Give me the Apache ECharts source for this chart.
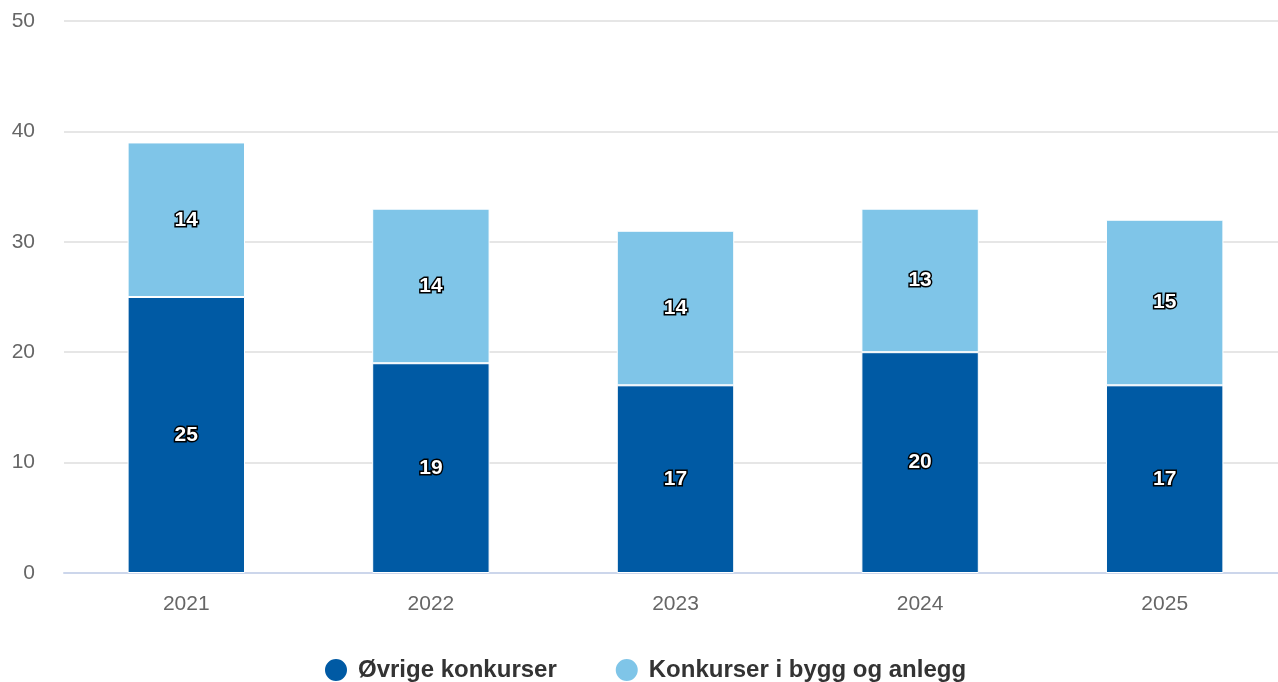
<!DOCTYPE html>
<html>
<head>
<meta charset="utf-8">
<style>
  html, body { margin: 0; padding: 0; background: #fff; }
  #chart { width: 1278px; height: 682px; }
</style>
<script src="https://cdn.jsdelivr.net/npm/echarts@6/dist/echarts.min.js"></script>
</head>
<body>
<div id="chart"></div>
<script>
const years = ['2021', '2022', '2023', '2024', '2025']
const ovrige = [25, 19, 17, 20, 17]
const bygg = [14, 14, 14, 13, 15]

const chart = echarts.init(document.getElementById('chart'))

const label = {
  show: true,
  position: 'inside',
  color: '#fff',
  fontSize: 21,
  fontWeight: 'bold',
  fontFamily: 'Liberation Sans, Arial, sans-serif',
  textBorderColor: '#000',
  textBorderWidth: 3
}

chart.setOption({
  animation: false,
  // plot area runs a little past the right edge of the canvas
  grid: { left: 64, width: 1223, top: 21, height: 552, outerBoundsMode: 'none' },
  legend: {
    top: 652,
    left: 318,
    itemGap: 57,
    icon: 'circle',
    itemWidth: 24,
    itemHeight: 24,
    textStyle: { fontSize: 24, fontWeight: 'bold', color: '#333', padding: [0, 0, 0, 5], fontFamily: 'Liberation Sans, Arial, sans-serif' }
  },
  xAxis: {
    type: 'category',
    data: years,
    axisLine: { lineStyle: { color: '#ccd6eb', width: 2 } },
    axisTick: { show: false },
    axisLabel: { color: '#666', fontSize: 21, margin: 21, fontFamily: 'Liberation Sans, Arial, sans-serif' }
  },
  yAxis: {
    type: 'value',
    min: 0,
    max: 50,
    interval: 10,
    axisLabel: { color: '#666', fontSize: 21, margin: 29, fontFamily: 'Liberation Sans, Arial, sans-serif' },
    splitLine: { lineStyle: { color: '#e6e6e6', width: 2 } }
  },
  series: [
    {
      name: 'Øvrige konkurser',
      type: 'bar',
      stack: 'total',
      barWidth: '48%',
      data: ovrige,
      itemStyle: { color: '#005aa4', borderColor: '#fff', borderWidth: 1 },
      label: label
    },
    {
      name: 'Konkurser i bygg og anlegg',
      type: 'bar',
      stack: 'total',
      barWidth: '48%',
      data: bygg,
      itemStyle: { color: '#7fc5e8', borderColor: '#fff', borderWidth: 1 },
      label: label
    }
  ]
})
</script>
</body>
</html>
